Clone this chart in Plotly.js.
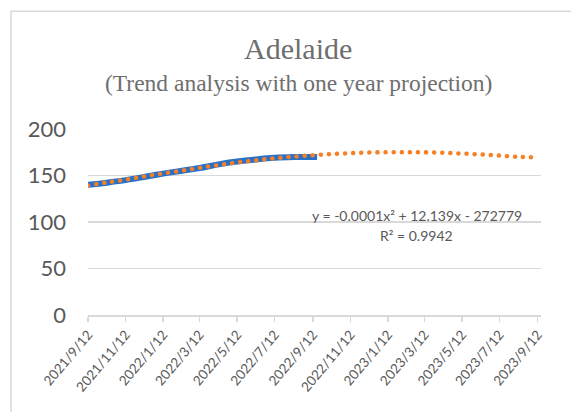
<!DOCTYPE html>
<html><head><meta charset="utf-8">
<script src="https://cdn.plot.ly/plotly-3.0.1.min.js"></script>
<style>html,body{margin:0;padding:0;background:#fff;} #chart{width:571px;height:412px;}</style>
</head><body><div id="chart"></div>
<script>
const dates = ['2021-09-12','2021-10-12','2021-11-12','2021-12-12','2022-01-12','2022-02-12','2022-03-12','2022-04-12','2022-05-12','2022-06-12','2022-07-12','2022-08-12','2022-09-12','2022-09-19'];
const values = [140.0,142.3,145.0,148.4,152.0,155.2,158.0,162.0,165.0,167.3,169.0,169.8,170.0,170.0];
const trendDates = ['2021-09-12','2021-10-12','2021-11-12','2021-12-12','2022-01-12','2022-02-12','2022-03-12','2022-04-12','2022-05-12','2022-06-12','2022-07-12','2022-08-12','2022-09-12','2022-10-12','2022-11-12','2022-12-12','2023-01-12','2023-02-12','2023-03-12','2023-04-12','2023-05-12','2023-06-12','2023-07-12','2023-08-12','2023-09-08'];
const trendValues = [139.3,142.5,145.6,149.0,152.3,155.3,158.3,161.2,164.0,166.4,168.5,170.3,171.8,173.0,174.0,174.7,175.0,175.1,174.9,174.4,173.6,172.6,171.4,170.0,169.6];
const tickDates = ['2021-09-12','2021-11-12','2022-01-12','2022-03-12','2022-05-12','2022-07-12','2022-09-12','2022-11-12','2023-01-12','2023-03-12','2023-05-12','2023-07-12','2023-09-12'];
const tickLabels = ['2021/9/12','2021/11/12','2022/1/12','2022/3/12','2022/5/12','2022/7/12','2022/9/12','2022/11/12','2023/1/12','2023/3/12','2023/5/12','2023/7/12','2023/9/12'];
const yTicks = [0,50,100,150,200];
const chartTitle = 'Adelaide';
const chartSubtitle = '(Trend analysis with one year projection)';
const equationText = 'y = -0.0001x² + 12.139x - 272779';
const r2Text = 'R² = 0.9942';

const gray = '#595959', grid = '#d9d9d9';
const serif = 'Liberation Serif, DejaVu Serif, serif';
const data = [
  {x: dates, y: values, type: 'scatter', mode: 'lines', line: {color: '#2870c8', width: 6, shape: 'spline'}, hoverinfo: 'skip'},
  {x: trendDates, y: trendValues, type: 'scatter', mode: 'lines', line: {color: '#f58025', width: 4.5, shape: 'spline', dash: '4px,4px'}, hoverinfo: 'skip'}
];
const layout = {
  width: 571, height: 412,
  margin: {l: 88, r: 30, t: 129, b: 97},
  paper_bgcolor: '#fff', plot_bgcolor: '#fff',
  showlegend: false,
  xaxis: {type: 'date', range: ['2021-09-12', '2023-09-17 12:00'], tickmode: 'array', tickvals: tickDates, ticktext: tickLabels, tickangle: -50,
    ticks: 'outside', ticklen: 5, tickcolor: grid, tickwidth: 1.5, showline: true, linecolor: grid, linewidth: 1.5, showgrid: false, zeroline: false,
    tickfont: {family: 'Lato', size: 13.5, color: gray}, fixedrange: true},
  yaxis: {range: [0, 200], tickmode: 'array', tickvals: yTicks, showgrid: true, gridcolor: grid, gridwidth: 1.5, zeroline: false, showline: false, ticks: '',
    tickfont: {family: 'Lato', size: 22, color: gray}, ticklabelstandoff: 21, fixedrange: true},
  annotations: [
    {text: chartTitle, xref: 'paper', yref: 'paper', x: (298-88)/453, y: (315.5-48)/186.5, xanchor: 'center', yanchor: 'middle', showarrow: false, font: {family: serif, size: 30, color: '#6e6e6e'}},
    {text: chartSubtitle, xref: 'paper', yref: 'paper', x: (298-88)/453, y: (315.5-83)/186.5, xanchor: 'center', yanchor: 'middle', showarrow: false, font: {family: serif, size: 23.5, color: '#6e6e6e'}},
    {text: equationText, xref: 'paper', yref: 'paper', x: (416.7-88)/453, y: (315.5-216)/186.5, xanchor: 'center', yanchor: 'middle', showarrow: false, font: {family: 'Lato', size: 14, color: gray}},
    {text: r2Text, xref: 'paper', yref: 'paper', x: (416.7-88)/453, y: (315.5-236)/186.5, xanchor: 'center', yanchor: 'middle', showarrow: false, font: {family: 'Lato', size: 14, color: gray}}
  ],
  shapes: [
    {type: 'rect', xref: 'paper', yref: 'paper', x0: (11-88)/453, x1: 1.3, y0: -0.8, y1: (315.5-11)/186.5, line: {color: grid, width: 1.5}, layer: 'below'}
  ]
};
Plotly.newPlot('chart', data, layout, {staticPlot: true, displayModeBar: false}).then(function(gd){
  const traces = gd.querySelectorAll('.scatterlayer .trace');
  if (traces.length > 1) {
    const p = traces[1].querySelector('path.js-line');
    if (p) { p.style.strokeDasharray = '0.1px,8px'; p.style.strokeLinecap = 'round'; }
  }
});
</script>
</body></html>
